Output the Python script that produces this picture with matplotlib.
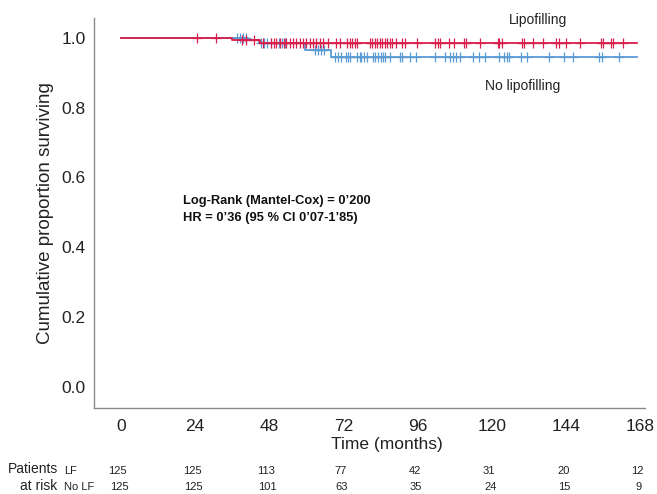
import numpy as np
import matplotlib
matplotlib.use("Agg")
import matplotlib.pyplot as plt
from matplotlib.transforms import blended_transform_factory

plt.rcParams['font.family'] = ['Liberation Sans', 'DejaVu Sans']

# step curves (time in months, survival proportion)
lf_times = [0, 36, 45, 167]
lf_surv = [1.0, 0.992, 0.984, 0.984]
nolf_times = [0, 41, 44.5, 59.6, 68, 167]
nolf_surv = [1.0, 0.992, 0.984, 0.966, 0.944, 0.944]

# censored observations (months)
lf_cens = [24.7, 30.8, 39.1, 40.4, 42.9, 45.8, 48.4, 49.4, 50.3, 51.6, 52.6, 53.5,
           54.8, 55.8, 56.7, 58.0, 59.0, 59.9, 61.2, 62.2, 63.1, 64.4, 65.4, 67.0,
           69.6, 70.8, 73.1, 74.0, 74.7, 75.6, 76.3, 80.4, 81.1, 82.1, 82.7, 83.7,
           84.3, 85.3, 85.9, 86.9, 87.8, 88.8, 91.0, 92.0, 95.8, 101.6, 102.6,
           103.2, 106.1, 107.7, 110.9, 111.5, 116.0, 121.8, 122.4, 123.1, 129.8,
           130.4, 133.3, 136.5, 140.7, 141.7, 143.9, 148.4, 155.1, 155.8, 158.3,
           159.0, 162.2]
nolf_cens = [37.5, 38.5, 39.4, 40.4, 45.2, 46.2, 47.1, 48.4, 51.0, 52.2, 53.2,
             62.8, 63.8, 64.7, 65.7, 69.2, 70.2, 71.2, 72.8, 73.4, 74.0, 76.3,
             77.2, 77.6, 78.5, 79.5, 81.4, 82.1, 83.0, 84.0, 84.6, 85.3, 86.9,
             90.1, 91.0, 93.6, 95.5, 101.6, 104.8, 106.4, 107.4, 108.3, 109.6,
             113.8, 115.7, 117.6, 122.4, 123.7, 124.7, 125.6, 129.5, 131.4,
             138.5, 143.3, 146.2, 154.5, 155.4, 161.2]

# number at risk table
risk_times = [0, 24, 48, 72, 96, 120, 144, 168]
risk_lf = [125, 125, 113, 77, 42, 31, 20, 12]
risk_nolf = [125, 125, 101, 63, 35, 24, 15, 9]

red = '#d81e4b'
blue = '#5b9bd5'


def surv_at(t, times, surv):
    idx = np.searchsorted(times, t, side='right') - 1
    return np.asarray(surv)[idx]


fig = plt.figure(figsize=(6.57, 4.94), dpi=100)
ax = fig.add_axes([0.143, 0.174, 0.839, 0.790])

ax.step(nolf_times, nolf_surv, where='post', color=blue, lw=1.3)
ax.plot(nolf_cens, surv_at(nolf_cens, nolf_times, nolf_surv), ls='none',
        marker='+', ms=7, mew=0.9, color=blue)
ax.step(lf_times, lf_surv, where='post', color=red, lw=1.3)
ax.plot(lf_cens, surv_at(lf_cens, lf_times, lf_surv), ls='none',
        marker='+', ms=7, mew=0.9, color=red)

ax.set_xlim(-8.7, 169.5)
ax.set_ylim(-0.06, 1.057)
ax.set_xticks(risk_times)
ax.set_yticks([0.0, 0.2, 0.4, 0.6, 0.8, 1.0])
ax.set_yticklabels(['0.0', '0.2', '0.4', '0.6', '0.8', '1.0'])
ax.tick_params(length=0, labelsize=12.5, colors='#222222', pad=6)
ax.tick_params(axis='x', pad=8)
for s in ['top', 'right']:
    ax.spines[s].set_visible(False)
for s in ['left', 'bottom']:
    ax.spines[s].set_color('#8a8a8a')
    ax.spines[s].set_linewidth(1.0)

ax.set_ylabel('Cumulative proportion surviving', fontsize=13.5, color='#222222', labelpad=5)
ax.set_xlabel('Time (months)', fontsize=12.5, color='#222222')
ax.xaxis.set_label_coords(0.532, -0.075)

fig.text(538 / 657, 1 - 20 / 494, 'Lipofilling', fontsize=10, ha='center', va='center', color='#222222')
fig.text(523 / 657, 1 - 86 / 494, 'No lipofilling', fontsize=10, ha='center', va='center', color='#222222')
fig.text(183 / 657, 1 - 201 / 494, 'Log-Rank (Mantel-Cox) = 0\u2019200', fontsize=9.3,
         fontweight='bold', ha='left', va='center', color='#111111')
fig.text(183 / 657, 1 - 218 / 494, 'HR = 0\u201936 (95 % CI 0\u201907-1\u201985)', fontsize=9.3,
         fontweight='bold', ha='left', va='center', color='#111111')

# risk table
fig.text(8 / 657, 1 - 469 / 494, 'Patients', fontsize=10, ha='left', va='center', color='#222222')
fig.text(57 / 657, 1 - 486 / 494, 'at risk', fontsize=10, ha='right', va='center', color='#222222')
fig.text(64 / 657, 1 - 471 / 494, 'LF', fontsize=8, ha='left', va='center', color='#222222')
fig.text(64 / 657, 1 - 487 / 494, 'No LF', fontsize=8, ha='left', va='center', color='#222222')
trans = blended_transform_factory(ax.transData, fig.transFigure)
for t, a, b in zip(risk_times, risk_lf, risk_nolf):
    ax.text(t - 1.0, 1 - 471 / 494, str(a), transform=trans, fontsize=8,
            ha='center', va='center', color='#222222', clip_on=False)
    ax.text(t - 0.6, 1 - 487 / 494, str(b), transform=trans, fontsize=8,
            ha='center', va='center', color='#222222', clip_on=False)

fig.savefig('out.png', dpi=100)
